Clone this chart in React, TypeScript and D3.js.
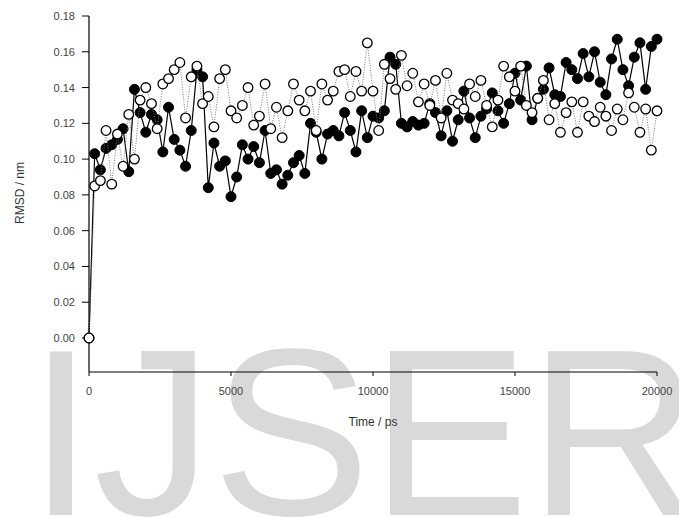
import React from 'react';
import * as d3 from 'd3';

// RMSD time series, one point every 200 ps
const times = d3.range(0, 20001, 200);

const filledRmsd = [
  0.000, 0.103, 0.094, 0.106, 0.108, 0.111, 0.117, 0.093, 0.139, 0.126,
  0.115, 0.125, 0.122, 0.104, 0.129, 0.111, 0.105, 0.096, 0.116, 0.150,
  0.146, 0.084, 0.109, 0.096, 0.099, 0.079, 0.090, 0.108, 0.100, 0.107,
  0.098, 0.116, 0.092, 0.094, 0.086, 0.091, 0.098, 0.102, 0.092, 0.120,
  0.115, 0.100, 0.114, 0.116, 0.113, 0.126, 0.116, 0.104, 0.127, 0.112,
  0.124, 0.123, 0.127, 0.157, 0.153, 0.120, 0.118, 0.121, 0.119, 0.120,
  0.131, 0.126, 0.113, 0.127, 0.110, 0.122, 0.138, 0.123, 0.112, 0.124,
  0.128, 0.137, 0.127, 0.120, 0.131, 0.148, 0.133, 0.152, 0.122, 0.134,
  0.139, 0.151, 0.136, 0.135, 0.154, 0.150, 0.145, 0.159, 0.146, 0.160,
  0.143, 0.136, 0.156, 0.167, 0.150, 0.141, 0.157, 0.165, 0.139, 0.163,
  0.167,
];

const openRmsd = [
  0.000, 0.085, 0.088, 0.116, 0.086, 0.114, 0.096, 0.125, 0.100, 0.133,
  0.140, 0.131, 0.117, 0.142, 0.145, 0.150, 0.154, 0.123, 0.146, 0.152,
  0.131, 0.135, 0.118, 0.145, 0.150, 0.127, 0.123, 0.130, 0.140, 0.119,
  0.124, 0.142, 0.117, 0.129, 0.112, 0.127, 0.142, 0.133, 0.127, 0.138,
  0.116, 0.142, 0.133, 0.138, 0.149, 0.150, 0.135, 0.149, 0.138, 0.165,
  0.138, 0.116, 0.153, 0.145, 0.139, 0.158, 0.141, 0.148, 0.132, 0.142,
  0.130, 0.144, 0.123, 0.148, 0.133, 0.131, 0.128, 0.142, 0.135, 0.144,
  0.130, 0.118, 0.133, 0.152, 0.146, 0.138, 0.152, 0.130, 0.126, 0.134,
  0.144, 0.122, 0.131, 0.115, 0.126, 0.132, 0.115, 0.132, 0.124, 0.121,
  0.129, 0.124, 0.116, 0.128, 0.122, 0.137, 0.129, 0.115, 0.128, 0.105,
  0.127,
];

const yTicks = [0, 0.02, 0.04, 0.06, 0.08, 0.1, 0.12, 0.14, 0.16, 0.18];
const xTicks = [0, 5000, 10000, 15000, 20000];

const W = 679;
const H = 517;
const font = 'Liberation Sans, Arial, sans-serif';

export default function App() {
  const x = d3.scaleLinear().domain([0, 20000]).range([89, 657]);
  const y = d3.scaleLinear().domain([0, 0.18]).range([338, 16]);
  const axisY = 372; // x axis sits below zero

  const pts = (vals: number[]) => times.map((t, i) => [t, vals[i]] as [number, number]);
  const line = d3.line<[number, number]>().x(d => x(d[0])).y(d => y(d[1]));

  return (
    <svg width={W} height={H} style={{ position: 'absolute', left: 0, top: 0, background: '#fff' }}>
      {/* watermark */}
      <text x={28} y={515} fontFamily={font} fontSize={237} fill="#d9d9d9">IJSER</text>

      {/* axes */}
      <line x1={89} x2={89} y1={y(0.18)} y2={axisY} stroke="#000" strokeWidth={1.2} />
      <line x1={89} x2={657} y1={axisY} y2={axisY} stroke="#000" strokeWidth={1.2} />
      {yTicks.map(v => (
        <g key={v}>
          <line x1={82} x2={89} y1={y(v)} y2={y(v)} stroke="#000" />
          <text x={75} y={y(v) + 4} textAnchor="end" fontFamily={font} fontSize={11} fill="#444">
            {v.toFixed(2)}
          </text>
        </g>
      ))}
      {xTicks.map(v => (
        <g key={v}>
          <line x1={x(v)} x2={x(v)} y1={axisY} y2={axisY + 4} stroke="#000" />
          <text x={x(v)} y={395} textAnchor="middle" fontFamily={font} fontSize={11} fill="#444">
            {v}
          </text>
        </g>
      ))}
      <text x={373} y={426} textAnchor="middle" fontFamily={font} fontSize={12} fill="#333">Time / ps</text>
      <text transform="translate(24,193) rotate(-90)" textAnchor="middle" fontFamily={font} fontSize={12} fill="#333">
        RMSD / nm
      </text>

      {/* filled series */}
      <path d={line(pts(filledRmsd)) || ''} fill="none" stroke="#000" strokeWidth={1.2} />
      {pts(filledRmsd).map((d, i) => (
        <circle key={'f' + i} cx={x(d[0])} cy={y(d[1])} r={5} fill="#000" stroke="#000" strokeWidth={1} />
      ))}

      {/* open series */}
      <path d={line(pts(openRmsd)) || ''} fill="none" stroke="#777" strokeWidth={1} strokeDasharray="1,1.5" />
      {pts(openRmsd).map((d, i) => (
        <circle key={'o' + i} cx={x(d[0])} cy={y(d[1])} r={4.8} fill="#fff" stroke="#000" strokeWidth={1.3} />
      ))}
    </svg>
  );
}
